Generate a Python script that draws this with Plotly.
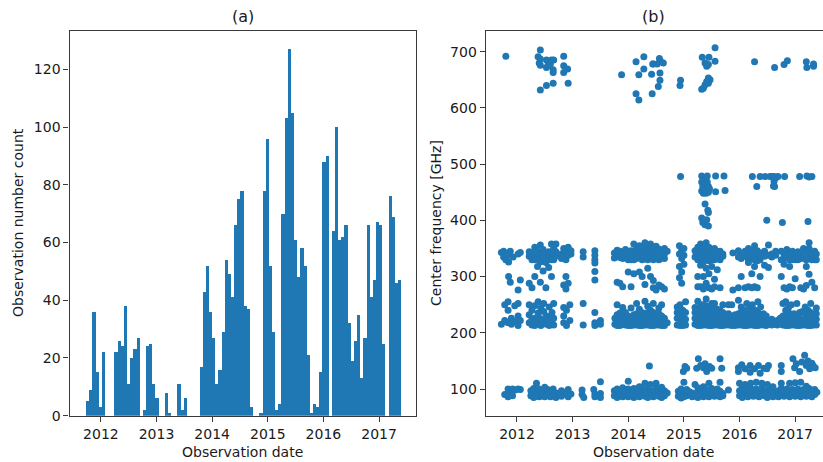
import plotly.graph_objects as go

# ---------------- (a) histogram of observation counts ----------------
hist_start = 2011.725          # left edge of the first bin (decimal year)
hist_width = 0.05664           # bin width in years (100 bins)
hist_counts = [
    5, 9, 36, 15, 3, 22, 0, 0, 0, 22,
    26, 24, 38, 11, 20, 23, 27, 0, 2, 24,
    25, 11, 6, 0, 0, 8, 1, 0, 0, 11,
    2, 6, 0, 0, 0, 0, 17, 43, 52, 36,
    27, 11, 16, 29, 54, 49, 41, 66, 75, 78,
    38, 37, 3, 0, 0, 1, 78, 96, 52, 29,
    2, 4, 70, 103, 127, 105, 61, 48, 58, 52,
    21, 1, 4, 3, 15, 88, 90, 0, 64, 100,
    61, 62, 66, 32, 19, 26, 35, 13, 27, 66,
    41, 47, 67, 66, 25, 0, 76, 69, 46, 47,
]
hist_centers = [hist_start + (i + 0.5) * hist_width for i in range(len(hist_counts))]

year_ticks = [2012, 2013, 2014, 2015, 2016, 2017]
year_labels = ["2012", "2013", "2014", "2015", "2016", "2017"]

# ---------------- (b) centre frequency of each observation ----------------
# (decimal year, [centre frequencies in GHz])
band3 = [
    (2011.78, [90]), (2011.84, [86, 100]), (2011.87, [97]), (2011.92, [100, 88]),
    (2011.97, [98]), (2012.02, [100]), (2012.06, [99]),
    (2012.25, [88, 97]), (2012.30, [85, 93, 101]), (2012.35, [90, 110, 87]),
    (2012.40, [86, 95, 100]), (2012.45, [92, 88]), (2012.50, [97, 86, 103]),
    (2012.55, [90, 99]), (2012.60, [86, 94]), (2012.65, [100, 88]), (2012.70, [93, 85]),
    (2012.80, [87, 97]), (2012.86, [93]), (2012.92, [86, 99]), (2012.97, [91]),
    (2013.17, [90, 98]), (2013.20, [85]), (2013.38, [99]), (2013.40, [91, 86]),
    (2013.50, [113, 92, 85]),
    (2013.75, [88, 97]), (2013.80, [92, 100, 85]), (2013.85, [95, 88]),
    (2013.90, [102, 90, 86]), (2013.95, [96, 88]), (2014.00, [114, 92, 86, 100]),
    (2014.05, [97, 89]), (2014.10, [92, 85, 101]), (2014.15, [98, 88]),
    (2014.20, [94, 86, 104]), (2014.25, [90, 100]), (2014.30, [110, 87, 95]),
    (2014.35, [92, 100, 85]), (2014.40, [88, 97, 108]), (2014.45, [94, 86]),
    (2014.50, [101, 90, 110]), (2014.55, [87, 96]), (2014.60, [92, 103, 85]),
    (2014.65, [88, 97]), (2014.70, [93]),
    (2014.90, [87, 96]), (2014.95, [100, 90, 84]), (2015.00, [112, 93, 86]),
    (2015.05, [88, 99]), (2015.10, [95]), (2015.15, [86, 93]), (2015.20, [108, 89]),
    (2015.25, [95, 85, 102]), (2015.30, [90, 98]), (2015.35, [86, 94, 104]),
    (2015.40, [90, 99]), (2015.45, [86, 96, 110]), (2015.50, [92, 101]),
    (2015.55, [87, 95]), (2015.60, [91, 100]), (2015.65, [86, 96, 112]),
    (2015.70, [92, 88]), (2015.80, [98]),
    (2016.00, [88, 97, 110]), (2016.05, [85, 93, 102]), (2016.10, [90, 99, 108]),
    (2016.15, [86, 95]), (2016.20, [92, 101, 110]), (2016.25, [87, 96]),
    (2016.30, [91, 100, 112]), (2016.35, [86, 95]), (2016.40, [92, 101, 110]),
    (2016.45, [88, 97]), (2016.50, [85, 93, 108]), (2016.55, [90, 99]),
    (2016.60, [86, 95, 104]), (2016.65, [92, 88]), (2016.70, [97, 86]),
    (2016.75, [91, 101, 110]), (2016.80, [87, 96]), (2016.85, [92, 100]),
    (2016.90, [86, 95, 110]), (2016.95, [91, 99]), (2017.00, [87, 96, 111]),
    (2017.05, [92, 100]), (2017.10, [86, 95, 112]), (2017.15, [90, 99]),
    (2017.20, [87, 96, 105]), (2017.25, [92, 101]), (2017.30, [86, 95]),
    (2017.35, [90, 99]), (2017.39, [94]),
]

band4 = [
    (2014.38, [141]), (2014.99, [131]), (2015.05, [137]), (2015.02, [140]),
    (2015.23, [137]), (2015.26, [154]), (2015.30, [142]), (2015.35, [138]),
    (2015.41, [131]), (2015.38, [145]), (2015.46, [140]), (2015.50, [137]),
    (2015.65, [154]), (2015.68, [137]),
    (2015.98, [131, 138]), (2016.04, [143]), (2016.10, [136]), (2016.19, [142, 130]),
    (2016.27, [136]), (2016.34, [142]), (2016.37, [128]), (2016.44, [137]),
    (2016.49, [136]), (2016.52, [142]), (2016.75, [142, 131]), (2016.96, [154]),
    (2016.99, [138]), (2017.02, [145]), (2017.08, [131]), (2017.12, [148]),
    (2017.17, [160]), (2017.20, [142]), (2017.23, [150]), (2017.26, [136]),
    (2017.30, [146]), (2017.32, [142]), (2017.36, [138]),
]

band6 = [
    (2011.72, [215]), (2011.78, [222, 250]), (2011.84, [218, 240, 255]),
    (2011.90, [215, 226]), (2011.96, [220, 248]), (2012.02, [213, 230, 252]),
    (2012.06, [222]),
    (2012.22, [218, 232, 250]), (2012.27, [214, 224, 240]), (2012.32, [213, 222, 248, 226]),
    (2012.38, [216, 228, 235, 255]), (2012.43, [213, 225, 244]), (2012.48, [220, 238, 252]),
    (2012.53, [215, 224, 230]), (2012.58, [222, 246, 213]), (2012.63, [218, 228, 236]),
    (2012.66, [214, 226, 252]),
    (2012.84, [218, 230, 245]), (2012.89, [213, 240]), (2012.95, [222, 250]),
    (2013.19, [214, 252]), (2013.40, [218, 236, 213]), (2013.50, [222, 215]),
    (2013.76, [215, 226]), (2013.80, [213, 220, 232, 250]), (2013.85, [213, 225, 235]),
    (2013.90, [218, 230, 245]), (2013.95, [214, 224, 236]), (2014.00, [213, 220, 230]),
    (2014.05, [213, 226, 244]), (2014.10, [214, 222, 232]), (2014.15, [214, 224, 234, 252]),
    (2014.20, [213, 220, 230, 242]), (2014.25, [213, 226, 236]), (2014.30, [214, 222, 232, 256]),
    (2014.35, [214, 224, 236, 247]), (2014.40, [213, 220, 230, 240]), (2014.45, [213, 226, 236, 252]),
    (2014.50, [214, 222, 234]), (2014.55, [214, 224, 234, 244]), (2014.60, [213, 220, 230, 250]),
    (2014.65, [213, 226]), (2014.70, [218]),
    (2014.88, [214, 226, 236, 246]), (2014.93, [213, 220, 232, 250]), (2014.98, [213, 226, 240]),
    (2015.03, [214, 224, 236, 255]),
    (2015.20, [215, 226, 236, 245]), (2015.25, [213, 220, 232, 256]), (2015.30, [213, 225, 240, 250]),
    (2015.35, [214, 222, 230, 240, 250]), (2015.40, [214, 224, 236, 248, 260]),
    (2015.45, [213, 220, 230, 240, 246]), (2015.50, [213, 226, 238, 252]),
    (2015.55, [214, 222, 232, 242, 252]), (2015.60, [214, 224, 234, 242]),
    (2015.65, [213, 220, 230, 240]), (2015.70, [213, 226, 236, 250]), (2015.75, [214, 222, 232]),
    (2015.80, [214, 224, 234, 250]), (2015.86, [213, 220, 230, 250]), (2015.92, [213, 222, 232]),
    (2015.98, [214, 224, 234, 258]), (2016.03, [214, 224, 236, 246]), (2016.08, [213, 220, 230, 240]),
    (2016.13, [213, 226, 236, 252]), (2016.18, [214, 222, 232, 244]), (2016.23, [214, 224, 236, 250]),
    (2016.28, [213, 220, 230, 240]), (2016.33, [213, 226, 236, 255]), (2016.38, [214, 222, 232, 246]),
    (2016.43, [214, 224, 234]), (2016.48, [213, 220, 230]), (2016.53, [216, 222]),
    (2016.58, [214, 224]), (2016.63, [218, 215]), (2016.68, [214, 222]),
    (2016.73, [218, 226]), (2016.78, [214, 230, 252]), (2016.83, [213, 220, 240, 255]),
    (2016.88, [213, 226, 236, 245]), (2016.93, [214, 222, 232, 250]), (2016.98, [214, 224, 234]),
    (2017.03, [213, 220, 230, 252]), (2017.08, [213, 226, 236]), (2017.13, [214, 222, 238]),
    (2017.18, [214, 224, 234, 246]), (2017.23, [213, 220, 230, 240]), (2017.28, [213, 226, 236, 252]),
    (2017.33, [214, 222, 232]), (2017.38, [214, 224, 234, 244]),
]

band7 = [
    (2011.72, [343]), (2011.76, [335, 345]), (2011.80, [330, 340]),
    (2011.85, [326, 338, 300]), (2011.88, [345, 290]), (2011.93, [335]),
    (2012.02, [340, 276]), (2012.06, [343, 294]),
    (2012.22, [336, 344, 288]), (2012.27, [330, 343, 280]), (2012.32, [330, 338, 352, 300]),
    (2012.37, [333, 345, 318]), (2012.42, [332, 340, 326, 290, 356]), (2012.47, [334, 342, 348, 310]),
    (2012.52, [330, 338, 325, 280]), (2012.57, [330, 338, 344, 316]), (2012.62, [330, 336, 358, 300]),
    (2012.66, [342, 330, 350]), (2012.70, [358, 336, 344]),
    (2012.80, [340, 332]), (2012.84, [350, 336, 285]), (2012.88, [344, 330, 300, 278]),
    (2012.92, [338, 352, 288]), (2012.97, [340, 346]),
    (2013.19, [344, 335]), (2013.40, [346, 338, 330, 324, 309, 294]),
    (2013.75, [342, 333]), (2013.80, [347, 338, 290]), (2013.85, [334, 345, 288]),
    (2013.90, [332, 340, 282]), (2013.95, [336, 348]), (2014.00, [330, 342, 333, 308]),
    (2014.05, [330, 346, 337, 282]), (2014.10, [330, 335, 345, 358, 305]), (2014.15, [332, 341, 350]),
    (2014.20, [334, 345, 355, 308]), (2014.25, [330, 339, 350, 300]),
    (2014.30, [333, 344, 352, 360, 286]), (2014.35, [330, 338, 350, 315]),
    (2014.40, [335, 345, 358, 300]), (2014.45, [330, 340, 352, 280, 293]),
    (2014.50, [334, 346, 354, 276]), (2014.55, [330, 338, 349, 285]), (2014.60, [333, 343, 282]),
    (2014.65, [332, 340, 350, 278]), (2014.70, [345]),
    (2014.92, [340, 355, 318, 298]), (2014.96, [346, 332, 308, 288]),
    (2015.00, [338, 350, 322]),
    (2015.20, [335, 346]), (2015.25, [330, 340, 352, 282, 300]),
    (2015.30, [334, 345, 358, 320, 282]), (2015.35, [330, 338, 350, 326, 300, 278]),
    (2015.40, [334, 345, 360, 315, 288]), (2015.45, [332, 340, 352, 328, 305, 280]),
    (2015.50, [330, 336, 346, 318, 278]), (2015.55, [340, 330, 350, 295, 282]),
    (2015.60, [344, 335, 312]), (2015.65, [330, 345, 280]), (2015.70, [340, 336]),
    (2015.88, [342, 276]), (2015.98, [346, 335, 280]), (2016.03, [340, 332, 300]),
    (2016.10, [345, 336, 280]), (2016.16, [330, 338, 350, 325, 282]),
    (2016.22, [334, 346, 305, 280]), (2016.27, [330, 340, 355, 318, 282]),
    (2016.32, [335, 346, 328, 280]), (2016.37, [330, 342, 336, 300]),
    (2016.45, [345, 320, 336]), (2016.52, [356, 338, 316]), (2016.58, [340, 335]),
    (2016.65, [345, 338]),
    (2016.75, [345, 330, 300]), (2016.80, [332, 340, 322, 280]), (2016.85, [336, 348, 278]),
    (2016.90, [340, 330, 318, 282]), (2016.95, [330, 345, 336, 280]),
    (2017.00, [340, 330, 296]), (2017.05, [330, 336, 344]), (2017.10, [340, 332, 280]),
    (2017.15, [350, 333, 342, 278]), (2017.20, [330, 338, 345, 318, 284]),
    (2017.25, [334, 342, 350, 360, 304]), (2017.30, [340, 330, 290]),
    (2017.35, [330, 345, 336, 280]), (2017.38, [340, 330]),
]

band8 = [
    (2014.94, [478]),
    (2015.32, [479, 468, 452, 404]), (2015.34, [460, 396]), (2015.35, [448, 400]),
    (2015.37, [470, 455]), (2015.38, [429, 392]), (2015.39, [462]),
    (2015.40, [448]), (2015.41, [401]), (2015.42, [479, 468, 452]),
    (2015.43, [418]), (2015.44, [460, 450, 414, 390]), (2015.46, [456]),
    (2015.57, [479, 451]), (2015.72, [479]), (2015.74, [453]),
    (2016.23, [478]), (2016.31, [460]), (2016.37, [478]), (2016.46, [478]),
    (2016.49, [400]), (2016.55, [478]), (2016.58, [478]), (2016.61, [461]),
    (2016.62, [478, 469]), (2016.63, [460]), (2016.66, [476]), (2016.69, [478]),
    (2016.77, [396]), (2016.81, [478]), (2017.08, [478]), (2017.21, [479]),
    (2017.23, [398]), (2017.25, [477]), (2017.30, [478]),
]

band9 = [
    (2011.80, [692]),
    (2012.38, [691]), (2012.40, [680]), (2012.42, [703, 687, 676, 632]),
    (2012.53, [685, 672, 640]), (2012.56, [676]), (2012.60, [678]), (2012.62, [685]),
    (2012.65, [668, 663, 644]), (2012.66, [685]),
    (2012.84, [692, 675, 663]), (2012.91, [669]), (2012.92, [644]),
    (2013.88, [659]), (2014.14, [682, 625]), (2014.19, [659, 614]),
    (2014.28, [691, 669]), (2014.42, [660]), (2014.43, [625]), (2014.44, [678]),
    (2014.45, [678]), (2014.52, [678]), (2014.54, [638]), (2014.56, [688]),
    (2014.57, [662, 649]), (2014.58, [683]), (2014.63, [680]),
    (2014.93, [640]), (2014.94, [649]),
    (2015.32, [633]), (2015.33, [690]), (2015.35, [635]), (2015.38, [680, 641]),
    (2015.41, [674, 647]), (2015.44, [677, 653, 644]), (2015.45, [690]),
    (2015.47, [650]), (2015.56, [707, 683]),
    (2016.27, [682]), (2016.63, [672]), (2016.80, [677]), (2016.86, [684]),
    (2017.20, [682]), (2017.21, [672]), (2017.33, [678, 674]),
]


def flatten(groups):
    xs, ys = [], []
    for year, freqs in groups:
        for f in freqs:
            xs.append(year)
            ys.append(f)
    return xs, ys


obs_x, obs_y = [], []
for grp in (band3, band4, band6, band7, band8, band9):
    gx, gy = flatten(grp)
    obs_x += gx
    obs_y += gy

C0 = "#1f77b4"
FONT = "DejaVu Sans"
TXT = "#1a1a1a"

fig = go.Figure()
fig.add_trace(go.Bar(
    x=hist_centers, y=hist_counts, width=[hist_width] * len(hist_counts),
    marker=dict(color=C0, line=dict(width=0)),
    xaxis="x", yaxis="y", showlegend=False,
))
fig.add_trace(go.Scatter(
    x=obs_x, y=obs_y, mode="markers",
    marker=dict(color=C0, size=7, line=dict(width=0)),
    xaxis="x2", yaxis="y2", showlegend=False,
))

W, H = 823, 462
axis_common = dict(
    showline=True, mirror=True, linecolor="#3a3a3a", linewidth=1.2,
    ticks="outside", ticklen=5, tickwidth=1.1, tickcolor="#3a3a3a",
    showgrid=False, zeroline=False, automargin=False,
    tickfont=dict(family=FONT, size=14, color=TXT),
)

fig.update_layout(
    template="none",
    width=W, height=H,
    margin=dict(l=0, r=0, t=0, b=0, pad=0, autoexpand=False),
    paper_bgcolor="white", plot_bgcolor="white",
    bargap=0, showlegend=False,
    xaxis=dict(domain=[69.5 / W, 416 / W], range=[2011.436, 2017.664],
               tickvals=year_ticks, ticktext=year_labels, anchor="y", **axis_common),
    yaxis=dict(domain=[(H - 415.7) / H, (H - 31) / H], range=[0, 133.3],
               tickvals=[0, 20, 40, 60, 80, 100, 120], anchor="x", **axis_common),
    xaxis2=dict(domain=[485.7 / W, 1.0], range=[2011.438, 2017.50],
                tickvals=year_ticks, ticktext=year_labels, anchor="y2", **axis_common),
    yaxis2=dict(domain=[(H - 415.7) / H, (H - 31) / H], range=[52.5, 736.8],
                tickvals=[100, 200, 300, 400, 500, 600, 700], anchor="x2", **axis_common),
)


def label(text, x, y, size=14, angle=0):
    fig.add_annotation(
        text=text, x=x / W, y=1 - y / H, xref="paper", yref="paper",
        showarrow=False, textangle=angle, xanchor="center", yanchor="middle",
        font=dict(family=FONT, size=size, color=TXT),
    )


label("(a)", 242.7, 16, size=16)
label("(b)", 653.5, 16, size=16)
label("Observation date", 242.7, 452)
label("Observation date", 653.5, 452)
label("Observation number count", 18, 223, angle=-90)
label("Center frequency [GHz]", 436, 223, angle=-90)

fig.write_html("out.html")
